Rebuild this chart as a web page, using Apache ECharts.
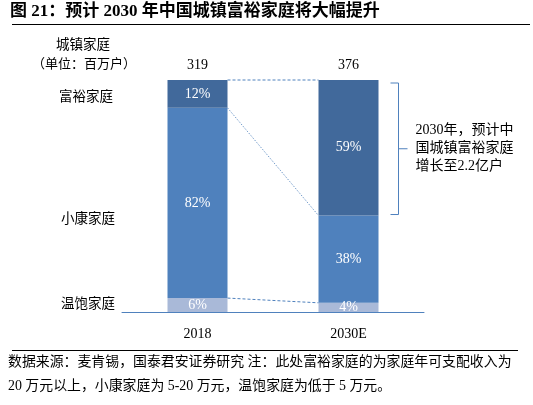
<!DOCTYPE html>
<html><head><meta charset="utf-8">
<script src="https://cdn.jsdelivr.net/npm/echarts@6/dist/echarts.min.js"></script>
<style>html,body{margin:0;padding:0;background:#fff}#c{width:533px;height:405px}</style>
</head><body><div id="c"></div>
<script>
const categories = ['2018', '2030E'];
const totals = [319, 376];
const wenbao = [6, 4];     // 温饱家庭 %
const xiaokang = [82, 38]; // 小康家庭 %
const fuyu = [12, 59];     // 富裕家庭 %
const seriesNames = ['温饱家庭', '小康家庭', '富裕家庭'];

const SERIF = "'Liberation Serif','Noto Sans CJK SC'";
const BAR_W = 60;
const sums = categories.map((c, i) => wenbao[i] + xiaokang[i] + fuyu[i]);
const norm = arr => arr.map((v, i) => v / sums[i] * 100);
const nW = norm(wenbao), nX = norm(xiaokang), nF = norm(fuyu);
const cumW = nW, cumX = nW.map((v, i) => v + nX[i]), cumF = cumX.map((v, i) => v + nF[i]);

function barSeries(name, vals, raw, color) {
  return {
    name, type: 'bar', stack: 's', barWidth: BAR_W,
    data: vals, itemStyle: { color },
    label: { show: true, position: 'inside', color: '#fff', fontFamily: SERIF, fontSize: 14,
      formatter: p => raw[p.dataIndex] + '%' },
    silent: true
  };
}

const connectors = [
  [0, cumF[0], 1, cumF[1], 'dashed'],
  [0, cumX[0], 1, cumX[1], 'dotted'],
  [0, cumW[0], 1, cumW[1], 'dashed']
];

const chart = echarts.init(document.getElementById('c'));
chart.setOption({
  animation: false,
  grid: { left: 122, right: 109, top: 80, bottom: 93 },
  xAxis: {
    type: 'category', data: categories,
    axisLine: { lineStyle: { color: '#4F81BD', width: 1 } },
    axisTick: { show: false },
    axisLabel: { color: '#000', fontFamily: SERIF, fontSize: 14, margin: 15 }
  },
  yAxis: { type: 'value', min: 0, max: 100, show: false },
  series: [
    barSeries(seriesNames[0], nW, wenbao, '#A9B9D8'),
    barSeries(seriesNames[1], nX, xiaokang, '#4F81BD'),
    barSeries(seriesNames[2], nF, fuyu, '#41699B'),
    {
      name: '合计', type: 'bar', stack: 's', barWidth: BAR_W, data: categories.map(() => 0),
      label: { show: true, position: 'top', distance: 8, color: '#000', fontFamily: SERIF, fontSize: 14,
        formatter: p => String(totals[p.dataIndex]) },
      silent: true
    },
    {
      type: 'custom', silent: true, z: 5,
      data: connectors,
      encode: { x: [0, 2], y: [1, 3] },
      renderItem: (params, api) => {
        const a = api.coord([api.value(0), api.value(1)]);
        const b = api.coord([api.value(2), api.value(3)]);
        const style = connectors[params.dataIndex][4];
        return {
          type: 'line',
          shape: { x1: a[0] + BAR_W / 2, y1: a[1], x2: b[0] - BAR_W / 2, y2: b[1] },
          style: { stroke: '#4F81BD', lineWidth: style === 'dotted' ? 0.8 : 1,
            lineDash: style === 'dotted' ? [1.5, 1.5] : [3, 2] }
        };
      }
    },
    {
      type: 'custom', silent: true, z: 5,
      data: [[1, cumF[1], cumX[1]]],
      encode: { x: 0, y: [1, 2] },
      renderItem: (params, api) => {
        const t = api.coord([api.value(0), api.value(1)]);
        const b = api.coord([api.value(0), api.value(2)]);
        const x0 = t[0] + BAR_W / 2 + 12, x1 = x0 + 8, x2 = x1 + 9;
        const y0 = t[1] + 3, y1 = b[1] - 1, ym = (y0 + y1) / 2;
        const st = { stroke: '#4F81BD', lineWidth: 1, fill: null };
        return {
          type: 'group', children: [
            { type: 'polyline', shape: { points: [[x0, y0], [x1, y0], [x1, y1], [x0, y1]] }, style: st },
            { type: 'line', shape: { x1: x1, y1: ym, x2: x2, y2: ym }, style: st },
            { type: 'text', x: x2 + 8, y: ym, style: {
              text: '2030年，预计中\n国城镇富裕家庭\n增长至2.2亿户',
              fontFamily: SERIF, fontSize: 14, lineHeight: 18, fill: '#000',
              verticalAlign: 'middle', align: 'left' } }
          ]
        };
      }
    }
  ],
  graphic: [
    { type: 'text', left: 10, top: 3, style: { text: '图 21：预计 2030 年中国城镇富裕家庭将大幅提升',
      fontFamily: SERIF, fontWeight: 'bold', fontSize: 17, fill: '#000' } },
    { type: 'line', shape: { x1: 12, y1: 24.5, x2: 530, y2: 24.5 }, style: { stroke: '#000', lineWidth: 1.2 } },
    { type: 'text', x: 83, y: 45, style: { text: '城镇家庭', fontFamily: SERIF, fontSize: 13.5, fill: '#000', align: 'center', verticalAlign: 'middle' } },
    { type: 'text', x: 84, y: 65, style: { text: '（单位：百万户）', fontFamily: SERIF, fontSize: 13, fill: '#000', align: 'center', verticalAlign: 'middle' } },
    { type: 'text', x: 86, y: 97, style: { text: '富裕家庭', fontFamily: SERIF, fontSize: 13.5, fill: '#000', align: 'center', verticalAlign: 'middle' } },
    { type: 'text', x: 88, y: 219, style: { text: '小康家庭', fontFamily: SERIF, fontSize: 13.5, fill: '#000', align: 'center', verticalAlign: 'middle' } },
    { type: 'text', x: 88, y: 304, style: { text: '温饱家庭', fontFamily: SERIF, fontSize: 13.5, fill: '#000', align: 'center', verticalAlign: 'middle' } },
    { type: 'line', shape: { x1: 12, y1: 350.5, x2: 518, y2: 350.5 }, style: { stroke: '#000', lineWidth: 1 } },
    { type: 'text', left: 8, top: 355, style: { text: '数据来源：麦肯锡，国泰君安证券研究 注：此处富裕家庭的为家庭年可支配收入为',
      fontFamily: SERIF, fontSize: 13.9, fill: '#000' } },
    { type: 'text', left: 8, top: 379, style: { text: '20 万元以上，小康家庭为 5-20 万元，温饱家庭为低于 5 万元。',
      fontFamily: SERIF, fontSize: 13.9, fill: '#000' } }
  ]
});
</script></body></html>
